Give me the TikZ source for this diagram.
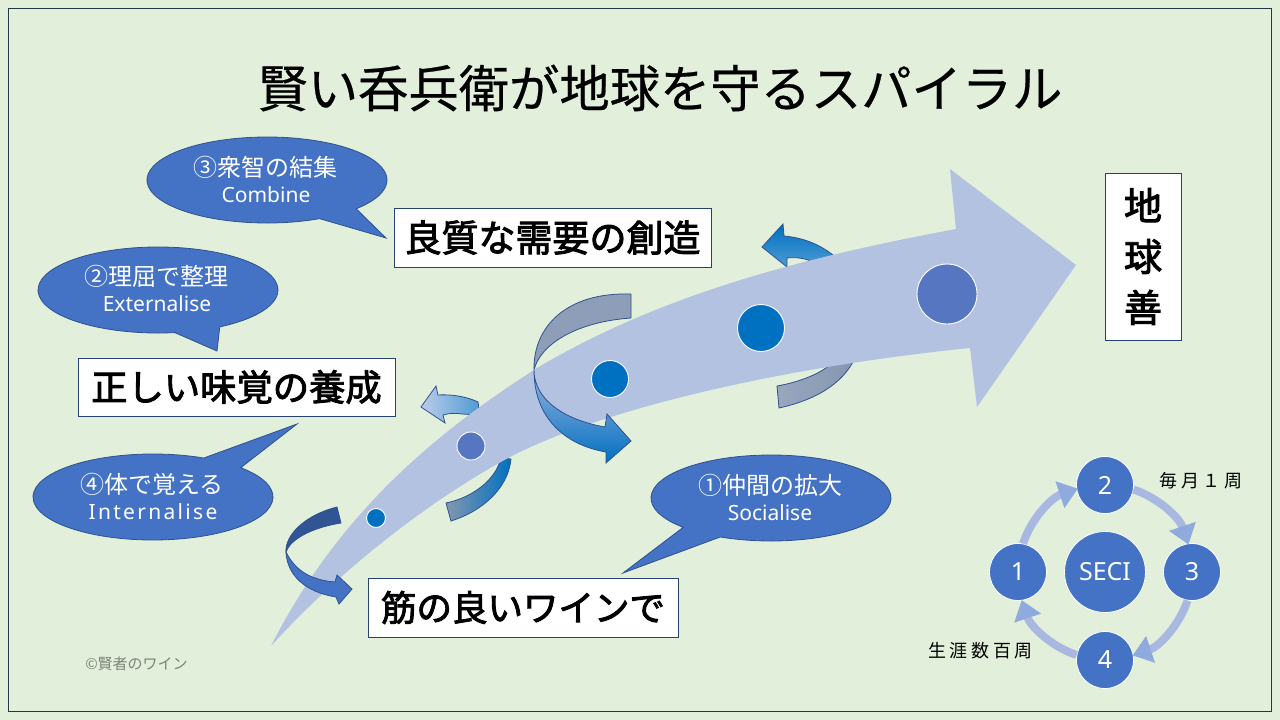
\documentclass[tikz,border=0pt]{standalone}
\usepackage{fontspec}
\usetikzlibrary{arrows.meta}
\setmainfont{Noto Sans}
\newfontfamily\jp{Noto Sans CJK JP}
\newfontfamily\jpb[FakeBold=2.5]{Noto Sans CJK JP}
\newfontfamily\jpt[FakeBold=0.5]{Noto Sans CJK JP}
\newfontfamily\jpsp[LetterSpace=20]{Noto Sans CJK JP}
\newfontfamily\insp[LetterSpace=11]{Noto Sans}
\definecolor{bgc}{HTML}{E2EFDA}
\definecolor{framec}{HTML}{203A4A}
\definecolor{mainc}{HTML}{B4C2E2}
\definecolor{bluec}{HTML}{4472C4}
\definecolor{edgec}{HTML}{2F528F}
\definecolor{ringc}{HTML}{A9B8E0}
\definecolor{tipc}{HTML}{8FAADC}
\definecolor{grayb}{HTML}{8E9DB8}
\definecolor{graydk}{HTML}{8497B0}
\definecolor{deep}{HTML}{0070C0}
\definecolor{peri}{HTML}{5676C2}
\tikzset{
  labelbox/.style={draw=edgec!80!black,line width=.9pt,fill=white,inner sep=0pt,text=black,font=\jpb\fontsize{36.3}{37}\selectfont},
  bub/.style={fill=bluec,draw=edgec,line width=.8pt},
  bubtext/.style={text=white,font=\jp\fontsize{24}{24}\selectfont,inner sep=0pt},
  bubsub/.style={text=white,font=\fontsize{21}{21}\selectfont,inner sep=0pt},
  dot/.style={circle,draw=white,line width=.9pt,inner sep=0pt},
  seci/.style={circle,fill=bluec,draw=white,line width=.8pt,inner sep=0pt,text=white,font=\fontsize{25}{25}\selectfont},
  cyc/.style={draw=ringc,line width=8pt,-{Triangle[length=19pt,width=27pt,color=tipc]}},
  twist/.style={draw=edgec,line width=.8pt},
  plain/.style={text=black,inner sep=0pt,font=\jpsp\fontsize{18}{18}\selectfont},
}
\newcommand{\bubble}[7]{%
  \coordinate (#1tip) at (#6,#7);
  \draw[bub] ({#2+120*cos(#4)},{#3+43*sin(#4)}) arc[start angle=#4,end angle=#5,x radius=120,y radius=43] -- (#1tip) -- cycle;
  \coordinate (#1c) at (#2,#3);
}
\begin{document}
\begin{tikzpicture}[x=1pt,y=1pt,yscale=-1]
\useasboundingbox (0,0) rectangle (1280,720);
\fill[bgc] (0,0) rectangle (1280,720);
\draw[framec,line width=1.2pt] (8.5,8.5) rectangle (1271.5,711.5);
% back parts of twists
\path[twist,fill=edgec!90!bluec] (337,507) .. controls (305,515) and (285,535) .. (286,552) .. controls (290,540) and (310,528) .. (341,523) -- cycle;
\path[twist,left color=graydk,right color=deep] (446,503) .. controls (470,498) and (495,482) .. (501,458) -- (511,459) .. controls (508,490) and (480,512) .. (451,521) -- cycle;
\path[twist,left color=tipc!60!white,right color=deep!70!white] (421,407) -- (436,386) -- (438,395) .. controls (455,394) and (470,398) .. (478,402) -- (480,415) -- (462,414) .. controls (455,413) and (450,413) .. (443,415) -- (445,423) -- cycle;
\path[twist,fill=grayb] (631,294) .. controls (565,292) and (533,328) .. (534,370) .. controls (540,345) and (575,322) .. (631,318) -- cycle;
\path[twist,left color=grayb!90!white,right color=graydk] (777,386) .. controls (800,382) and (822,373) .. (832,363) -- (853,362) .. controls (840,385) and (815,400) .. (779,408) -- cycle;
\path[twist,top color=deep,bottom color=deep!70!white] (762,247) -- (783,224) -- (784,236) .. controls (805,238) and (820,245) .. (833,255) -- (833,265) -- (813,262) .. controls (805,258) and (795,257) .. (787,258) -- (787,267) -- cycle;
% main arrow
\fill[mainc] (271,646) .. controls (340,510) and (440,430) .. (537,368) .. controls (660,295) and (800,258) .. (956,229) -- (950,169) -- (1076,265) -- (977,407) -- (970,348) .. controls (800,365) and (610,405) .. (510,457) .. controls (430,500) and (340,570) .. (271,646) -- cycle;
% front parts of twists
\path[twist,fill=bluec] (352,589) -- (337,575) -- (335,582) .. controls (310,580) and (295,570) .. (286,552) .. controls (287,575) and (305,592) .. (336,597) -- (339,604) -- cycle;
\path[twist,top color=tipc!90!white,bottom color=deep] (631,441) -- (607,414) -- (605,427) .. controls (565,420) and (534,400) .. (534,370) .. controls (534,418) and (565,445) .. (606,452) -- (606,463) -- cycle;
% dots
\node[dot,fill=deep,minimum size=19pt] (d1) at (376,518) {};
\node[dot,fill=peri,minimum size=28pt] (d2) at (471,446) {};
\node[dot,fill=deep,minimum size=37pt] (d3) at (610,379) {};
\node[dot,fill=deep,minimum size=47pt] (d4) at (761,328) {};
\node[dot,fill=peri,minimum size=60pt] (d5) at (947,294) {};
% title
\node[inner sep=0pt,text=black,font=\jpt\fontsize{50.3}{50}\selectfont] (title) at (660,88) {賢い呑兵衛が地球を守るスパイラル};
% label boxes
\node[labelbox,font=\jpb\fontsize{37}{37}\selectfont,minimum width=317pt,minimum height=59pt] (b1) at (552.5,237.5) {良質な需要の創造};
\node[labelbox,minimum width=317pt,minimum height=58pt] (b2) at (236.5,387) {正しい味覚の養成};
\node[labelbox,font=\jpb\fontsize{35.5}{37}\selectfont,minimum width=310pt,minimum height=59pt] (b3) at (523,607.5) {筋の良いワインで};
\node[labelbox,minimum width=76pt,minimum height=167pt,align=center,font=\jpb\fontsize{38}{51}\selectfont] (b4) at (1143,256.5) {地\\球\\善};
% bubbles
\bubble{c3}{267}{180}{64}{402}{386}{238}
\bubble{c2}{158}{290}{82}{419}{217}{351}
\bubble{c4}{153}{497}{-43}{295}{297}{424}
\bubble{c1}{771}{498}{137}{475}{623}{573}
\node[bubtext] (t3a) at (265,167) {③衆智の結集};
\node[bubsub] (t3b) at (266,195) {Combine};
\node[bubtext] (t2a) at (156,276) {②理屈で整理};
\node[bubsub] (t2b) at (157,304) {Externalise};
\node[bubtext] (t4a) at (152,484) {④体で覚える};
\node[bubsub,font=\insp\fontsize{21}{21}\selectfont] (t4b) at (153,512) {Internalise};
\node[bubtext] (t1a) at (770,485) {①仲間の拡大};
\node[bubsub] (t1b) at (770,513) {Socialise};
% SECI cycle
\node[seci,minimum size=81pt] (sc) at (1105,572) {SECI};
\node[seci,minimum size=57pt] (n1) at (1018,572) {1};
\node[seci,minimum size=57pt] (n2) at (1105,485) {2};
\node[seci,minimum size=57pt] (n3) at (1192,572) {3};
\node[seci,minimum size=57pt] (n4) at (1105,660) {4};
\draw[cyc] (n1.80.7) arc[start angle=198.5,delta angle=53,radius=87];
\draw[cyc] (n2.-9.3) arc[start angle=288.5,delta angle=53,radius=87];
\draw[cyc] (n3.-99.3) arc[start angle=18.5,delta angle=53,radius=87];
\draw[cyc] (n4.170.7) arc[start angle=108.5,delta angle=53,radius=87];
\node[plain] (l1) at (1201,481) {毎月１周};
\node[plain] (l2) at (980.5,651) {生涯数百周};
\node[inner sep=0pt,text=black!45!bgc,font=\jp\fontsize{15}{15}\selectfont] (cp) at (136.5,664) {©賢者のワイン};
\end{tikzpicture}
\end{document}
